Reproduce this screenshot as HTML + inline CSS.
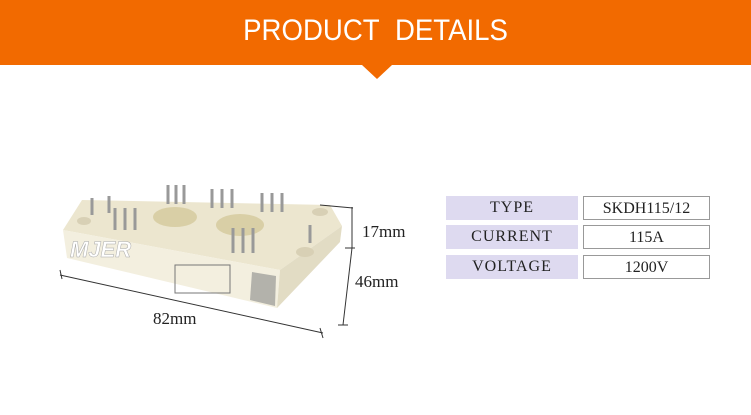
<!DOCTYPE html>
<html><head><meta charset="utf-8"><style>
body{margin:0;width:751px;height:415px;background:#fff;position:relative;overflow:hidden;font-family:"Liberation Serif",serif}
.hd{position:absolute;left:0;top:0;width:751px;height:65px;background:#f26a00}
.hd span{position:absolute;left:0;width:751px;top:14px;text-align:center;color:#fff;font:30px "Liberation Sans",sans-serif;transform:scaleX(0.92);transform-origin:376px 0}
.tri{position:absolute;left:362px;top:65px;width:0;height:0;border-left:15px solid transparent;border-right:15px solid transparent;border-top:14px solid #f26a00}
.c{position:absolute;height:24px;line-height:24px;text-align:center;font-size:16px;color:#222;box-sizing:border-box}
.l{left:446px;width:132px;background:#dedaf0;letter-spacing:1px}
.v{left:583px;width:127px;border:1px solid #999;background:#fff}
.t{position:absolute;font-size:17px;color:#222}
</style></head><body>
<div class="hd"><span>PRODUCT&nbsp; DETAILS</span></div>
<div class="tri"></div>
<div class="c l" style="top:196px">TYPE</div><div class="c v" style="top:196px">SKDH115/12</div>
<div class="c l" style="top:225px">CURRENT</div><div class="c v" style="top:225px">115A</div>
<div class="c l" style="top:255px">VOLTAGE</div><div class="c v" style="top:255px">1200V</div>
<svg width="751" height="415" style="position:absolute;left:0;top:0">
<polygon points="63,230 82,200 330,205 342,226 280,270" fill="#ece6cf"/>
<polygon points="63,230 280,270 277,308 67,258" fill="#f3efdf"/>
<polygon points="280,270 342,226 340,242 277,308" fill="#e2dcc4"/>
<ellipse cx="175" cy="217" rx="22" ry="10" fill="#d9cfa6"/>
<ellipse cx="240" cy="225" rx="24" ry="11" fill="#d9cfa6"/>
<ellipse cx="84" cy="221" rx="7" ry="4" fill="#d8d0b5"/>
<ellipse cx="320" cy="212" rx="8" ry="4" fill="#d8d0b5"/>
<ellipse cx="305" cy="252" rx="9" ry="5" fill="#d8d0b5"/>
<g stroke="#999" stroke-width="3">
<line x1="168" y1="185" x2="168" y2="204"/><line x1="176" y1="185" x2="176" y2="204"/><line x1="184" y1="185" x2="184" y2="204"/>
<line x1="212" y1="189" x2="212" y2="208"/><line x1="222" y1="189" x2="222" y2="208"/><line x1="232" y1="189" x2="232" y2="208"/>
<line x1="262" y1="193" x2="262" y2="212"/><line x1="272" y1="193" x2="272" y2="212"/><line x1="282" y1="193" x2="282" y2="212"/>
<line x1="115" y1="208" x2="115" y2="230"/><line x1="125" y1="208" x2="125" y2="230"/><line x1="135" y1="208" x2="135" y2="230"/>
<line x1="233" y1="228" x2="233" y2="253"/><line x1="243" y1="228" x2="243" y2="253"/><line x1="253" y1="228" x2="253" y2="253"/>
<line x1="92" y1="198" x2="92" y2="215"/><line x1="109" y1="196" x2="109" y2="213"/><line x1="310" y1="225" x2="310" y2="243"/>
</g>
<polygon points="252,272 276,276 275,306 250,300" fill="#888" opacity=".6"/>
<g stroke="#777" fill="none" stroke-width="1"><rect x="175" y="265" width="55" height="28"/></g>
<text x="70" y="257" font-family="Liberation Sans,sans-serif" font-style="italic" font-weight="bold" font-size="22" fill="#fff" stroke="#aaa" stroke-width=".5">MJER</text>
<g stroke="#333" stroke-width="1" fill="none">
<line x1="60" y1="275" x2="323" y2="333"/><line x1="60" y1="270" x2="62" y2="279"/><line x1="320" y1="328" x2="323" y2="338"/>
<line x1="320" y1="205" x2="353" y2="208"/><line x1="352" y1="207" x2="352" y2="248"/><line x1="345" y1="248" x2="355" y2="248"/>
<line x1="352" y1="248" x2="343" y2="325"/><line x1="338" y1="325" x2="348" y2="325"/>
</g>
</svg>
<div class="t" style="left:362px;top:222px">17mm</div>
<div class="t" style="left:355px;top:272px">46mm</div>
<div class="t" style="left:153px;top:309px">82mm</div>
</body></html>
